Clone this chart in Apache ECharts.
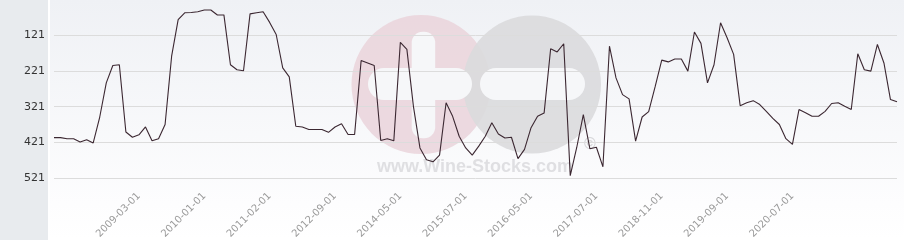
<!DOCTYPE html>
<html>
<head>
<meta charset="utf-8">
<script src="https://cdn.jsdelivr.net/npm/echarts@6/dist/echarts.min.js"></script>
<style>
html,body{margin:0;padding:0;background:#fff;}
#c{width:904px;height:240px;}
</style>
</head>
<body>
<div id="c"></div>
<script>
const categories = [
"2008-02-01","2008-03-01","2008-04-01","2008-05-01","2008-06-01","2008-07-01","2008-08-01","2008-09-01","2008-10-01","2008-11-01",
"2008-12-01","2009-01-01","2009-02-01","2009-03-01","2009-04-01","2009-05-01","2009-06-01","2009-07-01","2009-08-01","2009-09-01",
"2009-10-01","2009-11-01","2009-12-01","2010-01-01","2010-02-01","2010-03-01","2010-04-01","2010-05-01","2010-06-01","2010-08-01",
"2010-09-01","2010-11-01","2010-12-01","2011-02-01","2011-04-01","2011-06-01","2011-08-01","2011-10-01","2011-12-01","2012-02-01",
"2012-04-01","2012-05-01","2012-07-01","2012-09-01","2012-11-01","2013-01-01","2013-03-01","2013-05-01","2013-07-01","2013-09-01",
"2013-11-01","2014-01-01","2014-03-01","2014-05-01","2014-06-01","2014-08-01","2014-09-01","2014-10-01","2014-12-01","2015-01-01",
"2015-03-01","2015-04-01","2015-06-01","2015-07-01","2015-08-01","2015-09-01","2015-10-01","2015-11-01","2015-12-01","2016-01-01",
"2016-02-01","2016-03-01","2016-04-01","2016-05-01","2016-06-01","2016-08-01","2016-09-01","2016-10-01","2016-12-01","2017-01-01",
"2017-03-01","2017-04-01","2017-06-01","2017-07-01","2017-09-01","2017-10-01","2017-12-01","2018-01-01","2018-03-01","2018-04-01",
"2018-06-01","2018-07-01","2018-09-01","2018-11-01","2018-12-01","2019-01-01","2019-02-01","2019-03-01","2019-04-01","2019-05-01",
"2019-06-01","2019-07-01","2019-08-01","2019-09-01","2019-10-01","2019-11-01","2019-12-01","2020-01-01","2020-02-01","2020-03-01",
"2020-04-01","2020-05-01","2020-06-01","2020-07-01","2020-08-01","2020-09-01","2020-10-01","2020-11-01","2020-12-01","2021-01-01",
"2021-02-01","2021-03-01","2021-04-01","2021-05-01","2021-06-01","2021-07-01","2021-08-01","2021-09-01","2021-10-01","2021-11-01"
];
const rankValues = [
408,408,411,411,420,414,423,350,254,205,
203,392,407,400,378,417,411,371,179,76,
57,56,54,49,49,63,63,203,217,220,
60,57,54,84,118,212,237,376,378,385,
385,385,393,378,369,399,399,191,198,205,
416,411,417,140,160,320,437,470,476,457,
310,348,404,437,457,432,404,366,398,409,
407,467,441,380,348,339,158,167,144,515,
435,343,439,435,490,151,240,287,299,418,
350,335,264,190,195,187,187,221,111,143,
254,203,85,127,174,318,310,304,315,334,
354,371,411,427,329,338,348,348,334,312,
310,320,329,172,217,221,146,198,301,307
];
const tickLabels = ["2009-03-01","2010-01-01","2011-02-01","2012-09-01","2014-05-01","2015-07-01","2016-05-01","2017-07-01","2018-11-01","2019-09-01","2020-07-01"];
const yTicks = [121,221,321,421,521];

const chart = echarts.init(document.getElementById('c'), null, {renderer:'canvas'});
chart.setOption({
  animation:false,
  backgroundColor:{type:'linear',x:0,y:0,x2:0,y2:1,colorStops:[{offset:0,color:'#eff1f5'},{offset:0.85,color:'#fdfdfe'},{offset:1,color:'#ffffff'}]},
  graphic:[
    {type:'rect',left:0,top:0,shape:{width:48,height:240},style:{fill:'#e8ebee'},z:-10},
    {type:'rect',left:48,top:0,shape:{width:2,height:240},style:{fill:'#ffffff'},z:-10},
    {type:'circle',shape:{cx:421,cy:84.5,r:69.5},style:{fill:'#ead3da',opacity:0.85},z:-5,silent:true},
    {type:'circle',shape:{cx:532,cy:84.5,r:69},style:{fill:'#dadadd',opacity:0.9},z:-4,silent:true},
    {type:'rect',shape:{x:411.7,y:31.7,width:23.5,height:106.5,r:11},style:{fill:'#f6f7f9'},z:-3,silent:true},
    {type:'rect',shape:{x:368,y:68,width:104,height:32,r:16},style:{fill:'#f6f7f9'},z:-3,silent:true},
    {type:'rect',shape:{x:480,y:68,width:105,height:32,r:16},style:{fill:'#f6f7f9'},z:-3,silent:true},
    {type:'text',x:475,y:167,style:{text:'www.Wine-Stocks.com',font:'bold 18px "Liberation Sans", Arial, sans-serif',fill:'#dfdfe2',align:'center',verticalAlign:'middle'},z:-3,silent:true},
    {type:'text',x:590,y:145,style:{text:'©',font:'bold 16px "Liberation Sans", Arial, sans-serif',fill:'#d6d6d9',align:'center',verticalAlign:'middle'},z:-3,silent:true}
  ],
  grid:{left:54,right:7,top:0,bottom:51.5,containLabel:false,outerBoundsMode:'none'},
  xAxis:{
    type:'category',data:categories,boundaryGap:false,
    axisLine:{show:false},axisTick:{show:false},splitLine:{show:false},
    axisLabel:{rotate:45,fontSize:10,color:'#9a9a9a',fontFamily:'DejaVu Sans',margin:6,
      interval:(i,v)=>tickLabels.indexOf(v)>=0}
  },
  yAxis:{
    type:'value',inverse:true,min:21,max:551,interval:100,
    axisLine:{show:false},axisTick:{show:false},
    axisLabel:{fontSize:11,color:'#333',fontFamily:'DejaVu Sans',margin:9,showMinLabel:false,showMaxLabel:false,
      formatter:v=>yTicks.indexOf(v)>=0?String(v):''},
    splitLine:{show:true,showMinLine:false,showMaxLine:false,lineStyle:{color:'#dcdcdc',width:1}}
  },
  series:[{
    type:'line',data:rankValues,symbol:'none',smooth:false,
    lineStyle:{color:'#3b2731',width:1.1},z:5
  }]
});
</script>
</body>
</html>
